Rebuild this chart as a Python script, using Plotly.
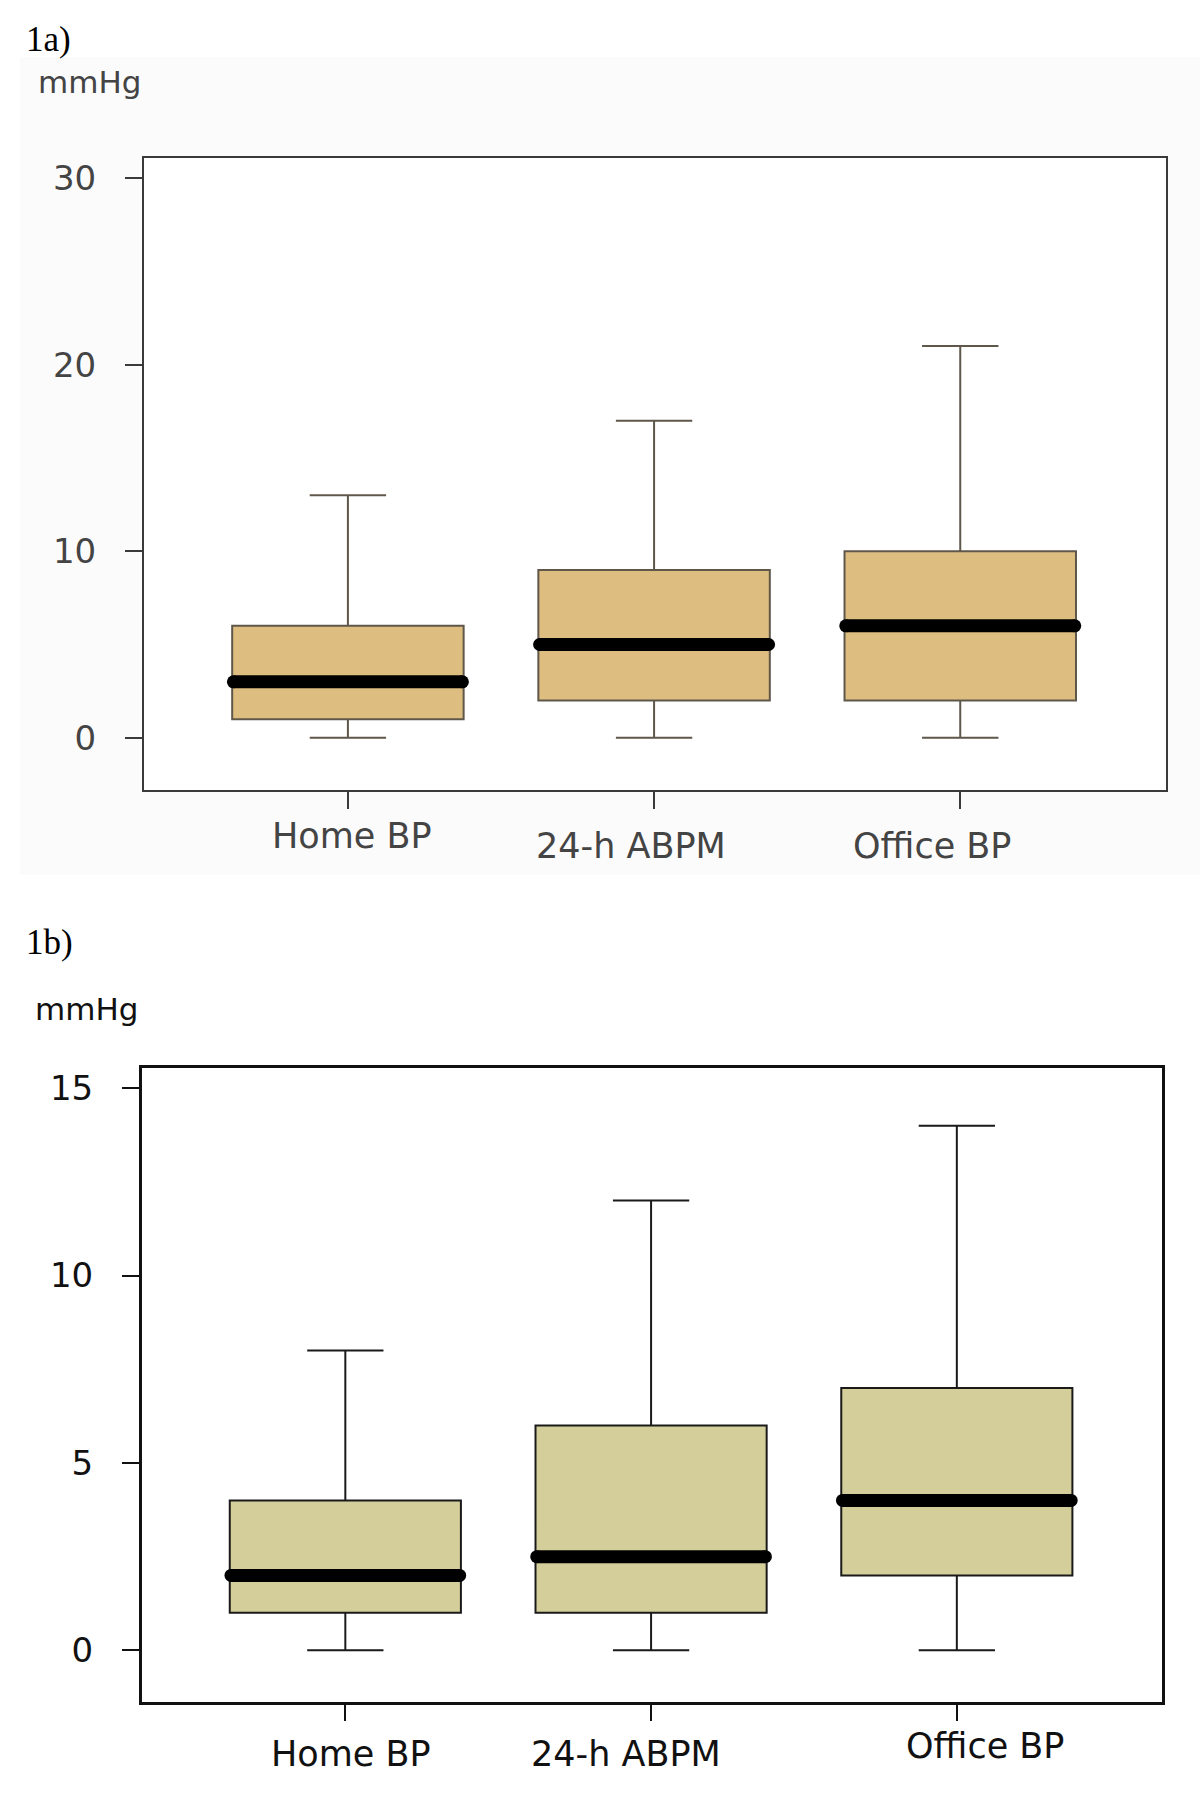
import plotly.graph_objects as go

# ---------------- data ----------------
categories = ["Home BP", "24-h ABPM", "Office BP"]

a_lower = [0, 0, 0]
a_q1 = [1, 2, 2]
a_median = [3, 5, 6]
a_q3 = [6, 9, 10]
a_upper = [13, 17, 21]
a_yticks = [0, 10, 20, 30]

b_lower = [0, 0, 0]
b_q1 = [1, 1, 2]
b_median = [2, 2.5, 4]
b_q3 = [4, 6, 7]
b_upper = [8, 12, 14]
b_yticks = [0, 5, 10, 15]

panel_labels = ["1a)", "1b)"]
unit_label = "mmHg"

# ---------------- styling ----------------
W, H = 1200, 1816
BOX_W = 0.756
HALF = BOX_W / 2
xs = list(range(len(categories)))

FILL_A = "#DEBE80"
FILL_B = "#D3CE9A"
LINE_A = "#5f574a"
LINE_B = "#1a1a1a"
TXT_A = "#444444"
TXT_B = "#111111"
FONT = "DejaVu Sans"

fig = go.Figure()

def add_panel(xa, ya, q1, med, q3, lo, up, fill, line):
    fig.add_trace(go.Box(
        x=xs, q1=q1, median=med, q3=q3, lowerfence=lo, upperfence=up,
        width=BOX_W, whiskerwidth=0.33, fillcolor=fill,
        line=dict(color=line, width=2), boxpoints=False,
        xaxis=xa, yaxis=ya, showlegend=False, hoverinfo="skip"))
    mx, my = [], []
    for i, m in zip(xs, med):
        mx += [i - HALF + 0.004, i + HALF - 0.004, None]
        my += [m, m, None]
    fig.add_trace(go.Scatter(
        x=mx, y=my, mode="lines+markers",
        line=dict(color="black", width=13),
        marker=dict(color="black", size=13),
        xaxis=xa, yaxis=ya, showlegend=False, hoverinfo="skip"))

add_panel("x", "y", a_q1, a_median, a_q3, a_lower, a_upper, FILL_A, LINE_A)
add_panel("x2", "y2", b_q1, b_median, b_q3, b_lower, b_upper, FILL_B, LINE_B)

def xaxis_cfg(domain, color, lw, anchor):
    return dict(domain=domain, range=[-0.666, 2.672], tickmode="array",
                tickvals=xs, showticklabels=False, ticks="outside",
                ticklen=17, tickwidth=2, tickcolor=color, anchor=anchor,
                showline=True, linecolor=color, linewidth=lw, mirror=True,
                showgrid=False, zeroline=False, fixedrange=True)

def yaxis_cfg(domain, rng, ticks, color, txt, lw, anchor):
    return dict(domain=domain, range=rng, tickmode="array", tickvals=ticks,
                ticktext=[str(t) for t in ticks], ticks="outside",
                ticklen=17, tickwidth=2, tickcolor=color,
                tickfont=dict(family=FONT, size=34, color=txt),
                ticklabelstandoff=22,
                showline=True, linecolor=color, linewidth=lw, mirror=True,
                showgrid=False, zeroline=False, anchor=anchor, fixedrange=True)

fig.update_layout(
    width=W, height=H, margin=dict(l=0, r=0, t=0, b=0),
    paper_bgcolor="white", plot_bgcolor="white",
    xaxis=xaxis_cfg([144 / W, 1166 / W], "#3a3a3a", 2, "y"),
    yaxis=yaxis_cfg([1 - 790 / H, 1 - 158.3 / H], [-2.8, 31.07], a_yticks, "#3a3a3a", TXT_A, 2, "x"),
    xaxis2=xaxis_cfg([141.7 / W, 1162.3 / W], "#111111", 2.5, "y2"),
    yaxis2=yaxis_cfg([1 - 1701.7 / H, 1 - 1068.3 / H], [-1.37, 15.53], b_yticks, "#111111", TXT_B, 2.5, "x2"),
)

# faint grey background of the first panel image, white inside the frame
fig.add_shape(type="rect", xref="paper", yref="paper",
              x0=20 / W, x1=1.0, y0=1 - 875 / H, y1=1 - 57 / H,
              fillcolor="#fbfbfb", line=dict(width=0), layer="below")
fig.add_shape(type="rect", xref="x domain", yref="y domain",
              x0=0, x1=1, y0=0, y1=1,
              fillcolor="white", line=dict(width=0), layer="below")

# category labels (positioned as in the original)
a_lab_dx = [0.013, -0.074, -0.092]
a_lab_y = [836, 846, 846]
b_lab_dx = [0.020, -0.082, 0.093]
b_lab_y = [1754, 1754, 1746]
for i, cat in enumerate(categories):
    fig.add_annotation(x=xs[i] + a_lab_dx[i], xref="x", y=1 - a_lab_y[i] / H, yref="paper",
                       text=cat, showarrow=False, xanchor="center", yanchor="middle",
                       font=dict(family=FONT, size=35, color=TXT_A))
    fig.add_annotation(x=xs[i] + b_lab_dx[i], xref="x2", y=1 - b_lab_y[i] / H, yref="paper",
                       text=cat, showarrow=False, xanchor="center", yanchor="middle",
                       font=dict(family=FONT, size=35, color=TXT_B))

# panel labels and units
fig.add_annotation(x=24 / W, y=1 - 40 / H, xref="paper", yref="paper", text=panel_labels[0],
                   showarrow=False, xanchor="left", yanchor="middle",
                   font=dict(family="Liberation Serif", size=35, color="black"))
fig.add_annotation(x=36 / W, y=1 - 82 / H, xref="paper", yref="paper", text=unit_label,
                   showarrow=False, xanchor="left", yanchor="middle",
                   font=dict(family=FONT, size=31, color=TXT_A))
fig.add_annotation(x=24 / W, y=1 - 942 / H, xref="paper", yref="paper", text=panel_labels[1],
                   showarrow=False, xanchor="left", yanchor="middle",
                   font=dict(family="Liberation Serif", size=35, color="black"))
fig.add_annotation(x=33 / W, y=1 - 1009 / H, xref="paper", yref="paper", text=unit_label,
                   showarrow=False, xanchor="left", yanchor="middle",
                   font=dict(family=FONT, size=31, color=TXT_B))

fig.write_html("out.html", config={"displayModeBar": False},
               post_script="document.body.style.margin='0';document.body.style.overflow='hidden';")
